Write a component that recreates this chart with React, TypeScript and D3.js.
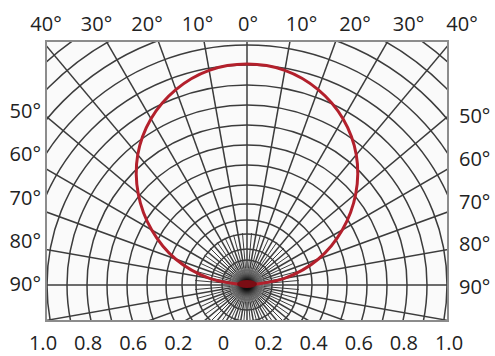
import React from "react";
import * as d3 from "d3";

const W = 495;
const H = 356;

// Angle tick labels (top): degrees from vertical, negative = left
const topAngles = [-40, -30, -20, -10, 0, 10, 20, 30, 40];
const topLabels = ["40°", "30°", "20°", "10°", "0°", "10°", "20°", "30°", "40°"];
// Side labels
const sideAngles = [50, 60, 70, 80, 90];
const sideLabels = ["50°", "60°", "70°", "80°", "90°"];
// Bottom intensity labels (as printed)
const bottomLabels = ["1.0", "0.8", "0.6", "0.2", "0", "0.2", "0.4", "0.6", "0.8", "1.0"];

// Grid circles (relative intensity units)
const gridRadii = [0.075, 0.125, 0.18, 0.255, 0.325, 0.405, 0.5, 0.6, 0.7, 0.8, 0.9, 1.0, 1.1, 1.2, 1.3, 1.4, 1.5, 1.6];
// Major rays every 10°, minor rays (near center) every 5°
const majorRays = [0, 10, 20, 30, 40, 50, 60, 70, 80, 90, 100, 110, 120, 130, 140, 150, 160, 170, 180, 190, 200, 210, 220, 230, 240, 250, 260, 270, 280, 290, 300, 310, 320, 330, 340, 350];
const minorRays = [5, 15, 25, 35, 45, 55, 65, 75, 85, 95, 105, 115, 125, 135, 145, 155, 165, 175, 185, 195, 205, 215, 225, 235, 245, 255, 265, 275, 285, 295, 305, 315, 325, 335, 345, 355];
const minorRayLength = 0.26;

// Luminous intensity curve
const curveAngles = [-90, -80, -70, -60, -50, -40, -30, -20, -10, 0, 10, 20, 30, 40, 50, 60, 70, 80, 90];
const curveValues = [0, 0.19, 0.38, 0.55, 0.71, 0.85, 0.96, 1.04, 1.09, 1.105, 1.09, 1.04, 0.96, 0.85, 0.71, 0.55, 0.38, 0.19, 0];

export default function App() {
  const frame = { x0: 46, x1: 448, y0: 41, y1: 321 };
  const cx = 247;
  const cy = 285;
  const r = d3.scaleLinear().domain([0, 1]).range([0, 200]);
  const rad = (deg: number) => (deg * Math.PI) / 180;

  const topX = d3.scaleLinear().domain([-40, 0, 40]).range([46, 248, 462]);
  const leftY = d3.scaleLinear().domain([50, 90]).range([118, 291]);
  const rightY = d3.scaleLinear().domain([50, 90]).range([123, 294]);
  const bottomX = d3
    .scalePoint<number>()
    .domain(bottomLabels.map((_, i) => i))
    .range([43, 449]);

  const ray = (deg: number, len: number) => {
    const a = rad(deg);
    return {
      x2: cx + len * Math.sin(a),
      y2: cy - len * Math.cos(a),
    };
  };

  const line = d3
    .lineRadial<number>()
    .angle((_, i) => rad(curveAngles[i]))
    .radius((d) => r(d))
    .curve(d3.curveCatmullRom.alpha(0.5));

  const gridColor = "#3c3c3c";
  const font = "'Open Sans', 'DejaVu Sans', sans-serif";

  return (
    <svg width={W} height={H} style={{ position: "absolute", left: 0, top: 0 }}>
      <defs>
        <clipPath id="frameClip">
          <rect x={frame.x0} y={frame.y0} width={frame.x1 - frame.x0} height={frame.y1 - frame.y0} />
        </clipPath>
        <radialGradient id="hub">
          <stop offset="0%" stopColor="#000" stopOpacity={1} />
          <stop offset="30%" stopColor="#111" stopOpacity={1} />
          <stop offset="60%" stopColor="#555" stopOpacity={0.8} />
          <stop offset="100%" stopColor="#999" stopOpacity={0.5} />
        </radialGradient>
      </defs>
      <rect x={0} y={0} width={W} height={H} fill="#fff" />
      <rect x={frame.x0} y={frame.y0} width={frame.x1 - frame.x0} height={frame.y1 - frame.y0} fill="#fafafa" />
      <g clipPath="url(#frameClip)">
        {gridRadii.map((g, i) => (
          <circle key={"c" + i} cx={cx} cy={cy} r={r(g)} fill="none" stroke={gridColor} strokeWidth={1.5} />
        ))}
        {majorRays.map((a) => {
          const p = ray(a, 500);
          return <line key={"M" + a} x1={cx} y1={cy} x2={p.x2} y2={p.y2} stroke={gridColor} strokeWidth={1.5} />;
        })}
        {minorRays.map((a) => {
          const p = ray(a, r(minorRayLength));
          return <line key={"m" + a} x1={cx} y1={cy} x2={p.x2} y2={p.y2} stroke={gridColor} strokeWidth={1} />;
        })}
        <circle cx={cx} cy={cy} r={17} fill="url(#hub)" />
        <path
          d={line(curveValues) || ""}
          transform={`translate(${cx},${cy})`}
          fill="none"
          stroke="#b3202c"
          strokeWidth={3}
          strokeLinejoin="round"
        />
        <ellipse cx={cx} cy={cy - 1} rx={10} ry={4} fill="#7a0d14" />
      </g>
      <rect
        x={frame.x0}
        y={frame.y0}
        width={frame.x1 - frame.x0}
        height={frame.y1 - frame.y0}
        fill="none"
        stroke="#8c8c8c"
        strokeWidth={2}
      />
      <g fontFamily={font} fontSize={20} fill="#222">
        {topAngles.map((a, i) => (
          <text key={"t" + i} x={topX(a)} y={30.5} textAnchor="middle">
            {topLabels[i]}
          </text>
        ))}
        {sideAngles.map((a, i) => (
          <text key={"l" + i} x={41} y={leftY(a)} textAnchor="end">
            {sideLabels[i]}
          </text>
        ))}
        {sideAngles.map((a, i) => (
          <text key={"r" + i} x={459} y={rightY(a)} textAnchor="start">
            {sideLabels[i]}
          </text>
        ))}
        {bottomLabels.map((l, i) => (
          <text key={"b" + i} x={bottomX(i)} y={350} textAnchor="middle">
            {l}
          </text>
        ))}
      </g>
    </svg>
  );
}
